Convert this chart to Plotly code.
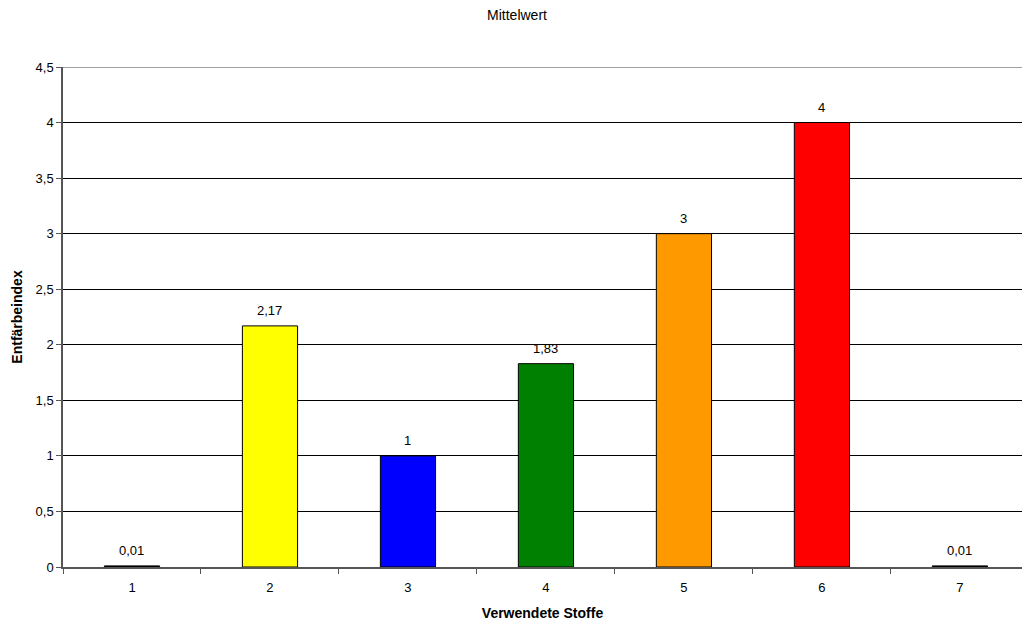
import plotly.graph_objects as go

categories = ["1", "2", "3", "4", "5", "6", "7"]
values = [0.01, 2.17, 1, 1.83, 3, 4, 0.01]
colors = ["#000000", "#FFFF00", "#0000FF", "#008000", "#FF9900", "#FF0000", "#000000"]
labels = ["0,01", "2,17", "1", "1,83", "3", "4", "0,01"]
y_ticks = [0, 0.5, 1, 1.5, 2, 2.5, 3, 3.5, 4, 4.5]
y_tick_text = ["0", "0,5", "1", "1,5", "2", "2,5", "3", "3,5", "4", "4,5"]

font = "Liberation Sans, Arial, sans-serif"

fig = go.Figure(go.Bar(
    x=categories,
    y=values,
    marker=dict(color=colors, line=dict(color="#000000", width=1)),
    width=0.4,
    hoverinfo="skip",
))

# value labels above each bar (category position given by index)
for i, (v, t) in enumerate(zip(values, labels)):
    fig.add_annotation(x=i, y=v, xref="x", yref="y", text=t, showarrow=False,
                       yanchor="bottom", yshift=6,
                       font=dict(family=font, size=13, color="#000000"))

# top border gridline of the value axis
fig.add_shape(type="line", xref="paper", yref="y", x0=0, x1=1,
              y0=y_ticks[-1], y1=y_ticks[-1],
              line=dict(color="#808080", width=1.5))

fig.update_layout(
    width=1022, height=621,
    margin=dict(l=63, r=0, t=67, b=54),
    paper_bgcolor="white", plot_bgcolor="white",
    showlegend=False,
    separators=",.",
    title=dict(text="Mittelwert", x=517 / 1022, xanchor="center", xref="container",
               y=1 - 15 / 621, yanchor="middle",
               font=dict(family=font, size=14, color="#000000")),
    font=dict(family=font, size=13, color="#000000"),
    xaxis=dict(
        type="category", categoryorder="array", categoryarray=categories,
        range=[-0.5, 6.45],
        tickson="boundaries", ticks="outside", ticklen=5, tickcolor="#555555",
        ticklabelstandoff=8,
        showline=True, linecolor="#555555", linewidth=1.5,
        showgrid=False, zeroline=False,
        tickfont=dict(family=font, size=13),
        title=dict(text="<b>Verwendete Stoffe</b>", standoff=15,
                   font=dict(family=font, size=14)),
    ),
    yaxis=dict(
        range=[0, 4.5], tickvals=y_ticks, ticktext=y_tick_text,
        ticks="outside", ticklen=5, tickcolor="#555555",
        showline=True, linecolor="#555555", linewidth=1.5,
        showgrid=True, gridcolor="#000000", gridwidth=1,
        zeroline=False,
        tickfont=dict(family=font, size=13),
        title=dict(text="<b>Entfärbeindex</b>", standoff=10,
                   font=dict(family=font, size=14)),
    ),
)

fig.write_html("out.html")
